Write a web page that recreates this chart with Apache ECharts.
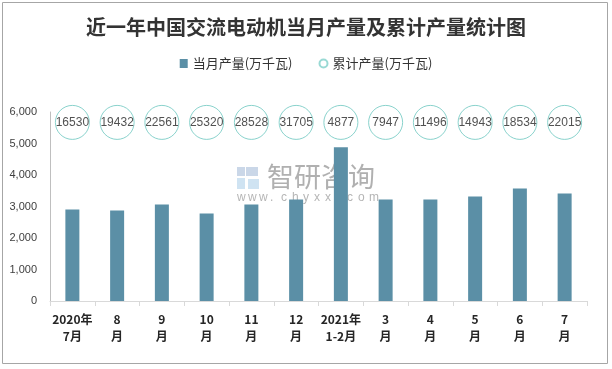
<!DOCTYPE html>
<html>
<head>
<meta charset="utf-8">
<script src="https://cdn.jsdelivr.net/npm/echarts@6/dist/echarts.min.js"></script>
<style>html,body{margin:0;padding:0;background:#fff}#c{width:612px;height:369px}</style>
</head>
<body>
<div id="c"></div>
<script>
var categories = ['2020年\n7月','8\n月','9\n月','10\n月','11\n月','12\n月','2021年\n1-2月','3\n月','4\n月','5\n月','6\n月','7\n月'];
var monthly = [2905, 2873, 3060, 2778, 3063, 3223, 4877, 3223, 3223, 3318, 3570, 3412];
var cumulative = [16530, 19432, 22561, 25320, 28528, 31705, 4877, 7947, 11496, 14943, 18534, 22015];
var yTicks = [0, 1000, 2000, 3000, 4000, 5000, 6000];
var circleRow = 5670; // vertical level of the cumulative badges, in axis units

var chart = echarts.init(document.getElementById('c'), null, {renderer: 'canvas'});
var font = '"Noto Sans CJK SC", "Liberation Sans", sans-serif';

var wm = [
  {type: 'rect', shape: {x: 237, y: 167, width: 8, height: 9}, style: {fill: 'rgba(150,175,210,0.5)'}},
  {type: 'rect', shape: {x: 246, y: 167, width: 12, height: 9}, style: {fill: 'rgba(150,175,210,0.5)'}},
  {type: 'rect', shape: {x: 237, y: 178, width: 8, height: 11}, style: {fill: 'rgba(160,200,230,0.5)'}},
  {type: 'rect', shape: {x: 248, y: 179, width: 11, height: 10}, style: {fill: 'rgba(160,200,230,0.5)'}},
  {type: 'text', style: {x: 267, y: 177, text: '智研咨询', fill: 'rgba(150,150,150,0.75)', font: '27px "Noto Sans CJK SC", sans-serif', textVerticalAlign: 'middle'}}
];
'www.chyxx.com'.split('').forEach(function (ch, i) {
  wm.push({type: 'text', style: {x: 237 + i * 11, y: 198, text: ch, fill: 'rgba(150,150,150,0.7)', font: '12px "Liberation Sans", sans-serif', textVerticalAlign: 'middle'}});
});

chart.setOption({
  animation: false,
  backgroundColor: '#ffffff',
  title: {
    text: '近一年中国交流电动机当月产量及累计产量统计图',
    left: 'center', top: 12,
    textStyle: {fontFamily: font, fontWeight: 'bold', fontSize: 20, color: '#333333'}
  },
  legend: {
    left: 'center', top: 52,
    itemGap: 26, itemWidth: 8, itemHeight: 9,
    textStyle: {fontFamily: font, fontSize: 13, color: '#333333'},
    data: [
      {name: '当月产量(万千瓦)', icon: 'rect', itemStyle: {color: '#5b8fa6'}},
      {name: '累计产量(万千瓦)', icon: 'circle', itemStyle: {color: '#ffffff', borderColor: '#7fd0c9', borderWidth: 2}}
    ]
  },
  grid: {left: 50, right: 25, top: 112, bottom: 68},
  xAxis: {
    type: 'category',
    data: categories,
    axisLine: {lineStyle: {color: '#d9d9d9'}},
    axisTick: {show: true, length: 5, lineStyle: {color: '#d9d9d9'}},
    axisLabel: {
      interval: 0, margin: 10, lineHeight: 17,
      fontFamily: font, fontWeight: 'bold', fontSize: 12, color: '#262626'
    }
  },
  yAxis: {
    type: 'value', min: 0, max: 6000, interval: 1000,
    axisLine: {show: true, lineStyle: {color: '#bfbfbf'}},
    axisTick: {show: false},
    splitLine: {show: false},
    axisLabel: {
      margin: 13, fontFamily: '"Liberation Sans", sans-serif', fontSize: 11, color: '#404040',
      formatter: function (v) { return yTicks.indexOf(v) >= 0 ? v.toLocaleString('en-US') : ''; }
    }
  },
  series: [
    {
      name: '当月产量(万千瓦)', type: 'bar', data: monthly, barWidth: 14,
      itemStyle: {color: '#5b8fa6'}
    },
    {
      name: '累计产量(万千瓦)', type: 'scatter',
      data: cumulative.map(function (v, i) { return {value: [i, circleRow], cum: v}; }),
      symbol: 'circle', symbolSize: 34, z: 3,
      itemStyle: {color: '#ffffff', borderColor: '#6cc7bf', borderWidth: 1},
      label: {
        show: true, position: 'inside',
        fontFamily: '"Liberation Sans", sans-serif', fontSize: 12, color: '#262626',
        formatter: function (p) { return String(p.data.cum); }
      }
    }
  ],
  graphic: [
    {type: 'rect', shape: {x: 2.5, y: 2.5, width: 605, height: 361}, style: {fill: 'none', stroke: '#a6a6a6', lineWidth: 1}, z: 10},
    {type: 'group', z: 20, children: wm}
  ]
});
</script>
</body>
</html>
